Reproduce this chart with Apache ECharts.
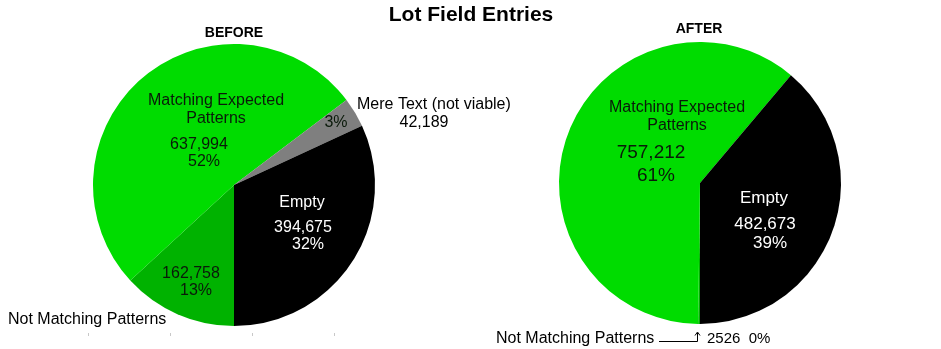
<!DOCTYPE html>
<html>
<head>
<meta charset="utf-8">
<title>Lot Field Entries</title>
<script src="https://cdn.jsdelivr.net/npm/echarts@6/dist/echarts.min.js"></script>
<style>
  html, body { margin: 0; padding: 0; background: #fff; }
  #chart { width: 941px; height: 349px; }
</style>
</head>
<body>
<div id="chart"></div>
<script>
// Slice order runs clockwise from the 6 o'clock position.
const beforeNames = ['Not Matching Patterns', 'Matching Expected Patterns', 'Mere Text (not viable)', 'Empty'];
const beforeValues = [162758, 637994, 42189, 394675];
const afterNames = ['Not Matching Patterns', 'Matching Expected Patterns', 'Empty'];
const afterValues = [2526, 757212, 482673];

const sliceColors = {
  'Not Matching Patterns': '#00b200',
  'Matching Expected Patterns': '#00dc00',
  'Mere Text (not viable)': '#7f7f7f',
  'Empty': '#000000'
};

const FONT = '"Liberation Sans", Arial, Helvetica, sans-serif';

function total(values) { return values.reduce((a, b) => a + b, 0); }
function fmt(v) { return v.toLocaleString('en-US'); }
function pct(values, i) { return Math.round(values[i] / total(values) * 100) + '%'; }

function pieData(names, values) {
  return names.map((n, i) => ({ name: n, value: values[i], itemStyle: { color: sliceColors[n] } }));
}

function txt(text, x, y, size, color, opts) {
  opts = opts || {};
  return {
    type: 'text', x: x, y: y + 1, silent: true, z: 10,
    style: {
      text: text,
      font: (opts.bold ? 'bold ' : '') + size + 'px ' + FONT,
      fill: color,
      align: opts.align || 'center',
      verticalAlign: 'middle',
      lineHeight: opts.lineHeight || Math.round(size * 1.12)
    }
  };
}

const bIdx = n => beforeNames.indexOf(n);
const aIdx = n => afterNames.indexOf(n);
const dark = '#0a1a0a';

const labels = [
  // titles
  txt('Lot Field Entries', 471, 14, 21, '#000', { bold: true }),
  txt('BEFORE', 234, 32, 14, '#000', { bold: true }),
  txt('AFTER', 699, 28, 14, '#000', { bold: true }),

  // before pie
  txt('Matching Expected\nPatterns', 216, 109, 16, dark, { lineHeight: 18 }),
  txt(fmt(beforeValues[bIdx('Matching Expected Patterns')]), 199, 144, 16, dark),
  txt(pct(beforeValues, bIdx('Matching Expected Patterns')), 204, 161, 16, dark),
  txt(pct(beforeValues, bIdx('Mere Text (not viable)')), 336, 122, 16, dark),
  txt(beforeNames[bIdx('Mere Text (not viable)')], 357, 104, 16, '#000', { align: 'left' }),
  txt(fmt(beforeValues[bIdx('Mere Text (not viable)')]), 424, 122, 16, '#000'),
  txt(beforeNames[bIdx('Empty')], 302, 202, 16, '#fff'),
  txt(fmt(beforeValues[bIdx('Empty')]), 303, 227, 16, '#fff'),
  txt(pct(beforeValues, bIdx('Empty')), 308, 244, 16, '#fff'),
  txt(fmt(beforeValues[bIdx('Not Matching Patterns')]), 191, 273, 16, dark),
  txt(pct(beforeValues, bIdx('Not Matching Patterns')), 196, 290, 16, dark),
  txt(beforeNames[bIdx('Not Matching Patterns')], 8, 319, 16, '#000', { align: 'left' }),

  // after pie
  txt('Matching Expected\nPatterns', 677, 116, 16, dark, { lineHeight: 18 }),
  txt(fmt(afterValues[aIdx('Matching Expected Patterns')]), 651, 152, 19, dark),
  txt(pct(afterValues, aIdx('Matching Expected Patterns')), 656, 175, 19, dark),
  txt(afterNames[aIdx('Empty')], 764, 197, 17, '#fff'),
  txt(fmt(afterValues[aIdx('Empty')]), 765, 223, 17, '#fff'),
  txt(pct(afterValues, aIdx('Empty')), 770, 242, 17, '#fff'),
  txt(afterNames[aIdx('Not Matching Patterns')], 496, 338, 16, '#000', { align: 'left' }),
  txt(afterValues[aIdx('Not Matching Patterns')] + '  ' + pct(afterValues, aIdx('Not Matching Patterns')), 707, 338, 15, '#000', { align: 'left' }),

  // pointer to the thin slice
  {
    type: 'polyline', silent: true, z: 10,
    shape: { points: [[659, 341.5], [697.5, 341.5], [697.5, 333]] },
    style: { stroke: '#000', lineWidth: 1, fill: null }
  },
  {
    type: 'polyline', silent: true, z: 10,
    shape: { points: [[695, 335.5], [697.5, 332], [700, 335.5]] },
    style: { stroke: '#000', lineWidth: 1, fill: null }
  }
];

// faint tick marks below the first pie
[88, 170, 252, 334].forEach(x => {
  labels.push({
    type: 'rect', silent: true, z: 1,
    shape: { x: x, y: 333, width: 1, height: 3 },
    style: { fill: '#c8c8c8' }
  });
});

const pieBase = {
  type: 'pie',
  radius: 141,
  startAngle: 270,
  clockwise: true,
  minAngle: 0,
  avoidLabelOverlap: false,
  silent: true,
  label: { show: false },
  labelLine: { show: false },
  itemStyle: { borderWidth: 0 },
  emphasis: { disabled: true }
};

const chart = echarts.init(document.getElementById('chart'), null, { renderer: 'canvas' });
chart.setOption({
  animation: false,
  backgroundColor: '#ffffff',
  series: [
    Object.assign({}, pieBase, { name: 'BEFORE', center: [234, 185], data: pieData(beforeNames, beforeValues) }),
    Object.assign({}, pieBase, { name: 'AFTER', center: [700, 183], data: pieData(afterNames, afterValues) })
  ],
  graphic: labels
});
</script>
</body>
</html>
